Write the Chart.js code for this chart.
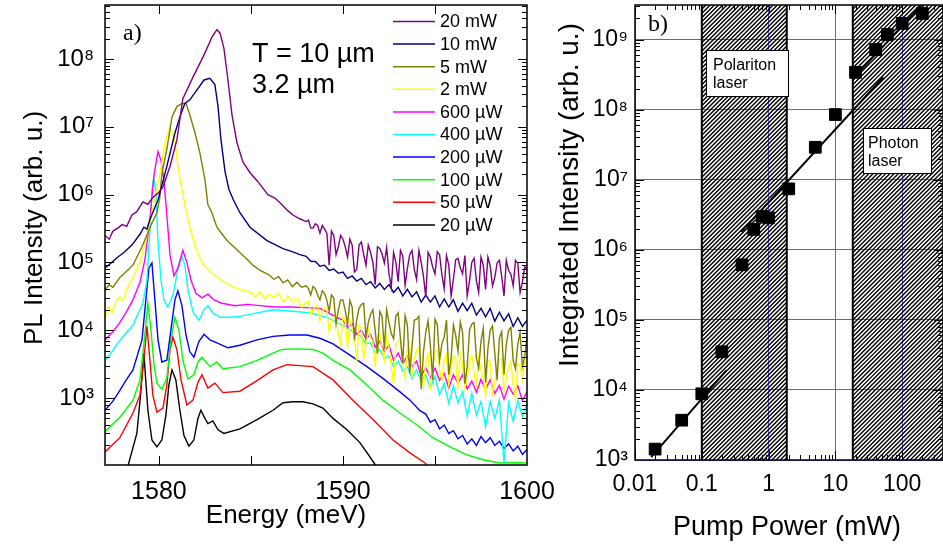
<!DOCTYPE html>
<html>
<head>
<meta charset="utf-8">
<script src="https://cdn.jsdelivr.net/npm/chart.js@4.4.1/dist/chart.umd.min.js"></script>
<style>
  body { margin: 0; background: #fff; }
  #wrap { position: relative; width: 943px; height: 545px; overflow: hidden; background: #fff; }
  #spectra { position: absolute; left: 0; top: 0; width: 560px; height: 545px; }
  #power { position: absolute; left: 540px; top: 0; width: 403px; height: 545px; }
</style>
</head>
<body>
<div id="wrap">
  <canvas id="spectra" width="560" height="545"></canvas>
  <canvas id="power" width="403" height="545"></canvas>
</div>
<script>
// ---- a) PL spectra, one curve per pump power ----
// peak region of each spectrum (energy in meV, intensity in arb. u.)
const e20mW = [1577.07, 1577.3, 1577.5, 1577.77, 1578.0, 1578.25, 1578.53, 1578.8, 1579.13, 1579.4, 1579.67, 1579.95, 1580.22, 1580.6, 1580.98, 1581.3, 1581.85, 1582.23, 1582.5, 1582.88, 1583.15, 1583.32, 1583.53, 1583.75, 1583.97, 1584.24, 1584.57, 1584.95, 1585.38, 1585.92, 1586.3, 1586.58, 1587.0, 1587.28, 1587.65];
const i20mW = [2.5e5, 2.2e5, 2.9e5, 3.2e5, 3.6e5, 3.4e5, 5.0e5, 5.6e5, 7.8e5, 7.2e5, 9.1e5, 1.05e6, 1.3e6, 2.6e6, 6.5e6, 2.6e7, 5.4e7, 8.7e7, 1.23e8, 2.1e8, 2.7e8, 2.4e8, 1.45e8, 4.9e7, 1.5e7, 5.8e6, 3.0e6, 2.1e6, 1.55e6, 1.0e6, 8.9e5, 7.6e5, 5.8e5, 5.0e5, 4.4e5];
const e10mW = [1577.07, 1577.4, 1577.77, 1578.1, 1578.53, 1578.97, 1579.18, 1579.35, 1579.51, 1579.95, 1580.43, 1580.87, 1581.14, 1581.41, 1581.68, 1582.07, 1582.45, 1582.77, 1583.04, 1583.21, 1583.37, 1583.59, 1583.8, 1584.05, 1584.4, 1584.95, 1585.87, 1586.74, 1587.2, 1587.66];
const i10mW = [8.3e4, 9.8e4, 1.2e5, 1.4e5, 1.8e5, 2.6e5, 3.3e5, 3.1e5, 4.3e5, 8.3e5, 2.6e6, 8.1e6, 1.4e7, 2.2e7, 2.5e7, 3.5e7, 4.9e7, 5.2e7, 4.2e7, 2.0e7, 6.5e6, 2.2e6, 1.2e6, 8.3e5, 5.4e5, 3.3e5, 2.1e5, 1.6e5, 1.45e5, 1.3e5];
const e5mW = [1577.07, 1577.3, 1577.5, 1577.88, 1578.2, 1578.59, 1579.08, 1579.62, 1579.89, 1580.05, 1580.16, 1580.43, 1580.71, 1580.98, 1581.25, 1581.47, 1581.68, 1581.96, 1582.23, 1582.5, 1582.66, 1582.88, 1583.15, 1583.7, 1584.4, 1584.8, 1585.11, 1585.5, 1586, 1586.25, 1586.5, 1586.75, 1587, 1587.25, 1587.5, 1587.75];
const i5mW = [3.9e4, 4.7e4, 4.3e4, 6.0e4, 7.2e4, 9.1e4, 1.7e5, 3.8e5, 5.4e5, 9.1e5, 2.0e6, 4.7e6, 1.4e7, 2.0e7, 2.2e7, 2.2e7, 1.5e7, 8.1e6, 4.1e6, 1.66e6, 7.1e5, 5.4e5, 3.3e5, 2.1e5, 1.4e5, 1.1e5, 9.1e4, 7.6e4, 6.5e4, 5.6e4, 6.2e4, 5.0e4, 5.5e4, 4.4e4, 5.1e4, 4.3e4];
const e2mW = [1577.07, 1577.25, 1577.45, 1577.65, 1577.88, 1578.05, 1578.25, 1578.59, 1578.97, 1579.4, 1579.78, 1580.05, 1580.33, 1580.6, 1580.87, 1581.03, 1581.25, 1581.47, 1581.68, 1582.01, 1582.39, 1582.88, 1583.59, 1584.29, 1584.7, 1585, 1585.25, 1585.5, 1585.75, 1586, 1586.25, 1586.5, 1586.75, 1587, 1587.25, 1587.5, 1587.75];
const i2mW = [1.5e4, 2.2e4, 1.8e4, 2.6e4, 3.1e4, 2.7e4, 4.0e4, 6.0e4, 1.0e5, 2.8e5, 8.9e5, 1.95e6, 5.8e6, 1.0e7, 6.1e6, 2.6e6, 1.2e6, 6.0e5, 3.3e5, 1.6e5, 9.5e4, 6.9e4, 5.0e4, 4.1e4, 3.8e4, 3.6e4, 3.1e4, 3.7e4, 2.9e4, 3.4e4, 3.0e4, 3.5e4, 2.6e4, 3.2e4, 2.6e4, 3.0e4, 2.2e4];
const e600uW = [1577.07, 1577.5, 1577.88, 1578.2, 1578.59, 1578.97, 1579.24, 1579.51, 1579.73, 1579.95, 1580.11, 1580.27, 1580.43, 1580.6, 1580.82, 1581.03, 1581.3, 1581.52, 1581.74, 1582.01, 1582.34, 1582.66, 1582.99, 1583.42, 1584.13, 1584.8, 1585.49, 1586.3, 1587.12, 1588.0, 1588.75, 1589.46];
const i600uW = [7.2e3, 9.5e3, 1.3e4, 1.8e4, 2.8e4, 5.1e4, 1.1e5, 4.3e5, 1.95e6, 4.3e6, 3.2e6, 1.66e6, 5.0e5, 1.3e5, 6.3e4, 8.3e4, 1.5e5, 1.0e5, 5.5e4, 3.5e4, 3.0e4, 3.4e4, 2.8e4, 2.5e4, 2.3e4, 2.4e4, 2.3e4, 2.2e4, 2.2e4, 2.15e4, 2.1e4, 1.66e4];
const e400uW = [1577.07, 1577.4, 1577.77, 1578.2, 1578.59, 1579.13, 1579.35, 1579.51, 1579.62, 1579.73, 1579.84, 1579.95, 1580.11, 1580.27, 1580.49, 1580.76, 1581.03, 1581.25, 1581.41, 1581.58, 1581.85, 1582.17, 1582.45, 1582.66, 1582.93, 1583.32, 1583.86, 1584.4, 1585.33, 1586.2, 1587.28, 1588.21, 1589.13, 1590.22, 1590.7];
const i400uW = [3.6e3, 4.6e3, 6.5e3, 9.0e3, 1.2e4, 2.5e4, 5.5e4, 3.0e5, 1.17e6, 1.74e6, 9.8e5, 2.1e5, 5.5e4, 2.8e4, 2.2e4, 3.3e4, 7.8e4, 1.23e5, 9.1e4, 3.9e4, 1.86e4, 1.4e4, 2.0e4, 2.3e4, 1.8e4, 1.55e4, 1.55e4, 1.6e4, 1.8e4, 2.0e4, 1.9e4, 1.8e4, 1.55e4, 1.1e4, 9.0e3];
const e200uW = [1577.07, 1577.5, 1577.88, 1578.2, 1578.59, 1579.08, 1579.29, 1579.46, 1579.62, 1579.78, 1579.95, 1580.16, 1580.43, 1580.65, 1580.87, 1581.03, 1581.25, 1581.47, 1581.68, 1581.9, 1582.17, 1582.45, 1582.77, 1583.15, 1583.75, 1584.4, 1585.33, 1586.2, 1587.12, 1588.04, 1588.75, 1589.46, 1590.38, 1591.3, 1592.17, 1593.1, 1593.64, 1594.18];
const i200uW = [6.6e2, 9.0e2, 1.3e3, 1.8e3, 2.6e3, 7.2e3, 2.8e4, 8.3e4, 9.8e4, 2.8e4, 7.2e3, 3.4e3, 3.6e3, 1.0e4, 2.8e4, 3.8e4, 2.3e4, 8.5e3, 4.8e3, 4.0e3, 6.8e3, 8.7e3, 7.2e3, 6.5e3, 5.5e3, 6.0e3, 7.2e3, 8.1e3, 8.5e3, 8.5e3, 7.6e3, 6.3e3, 4.3e3, 2.9e3, 1.95e3, 1.23e3, 9.3e2, 6.5e2];
const e100uW = [1577.07, 1577.88, 1578.59, 1578.97, 1579.18, 1579.4, 1579.57, 1579.73, 1579.89, 1580.16, 1580.43, 1580.65, 1580.87, 1581.09, 1581.3, 1581.58, 1581.9, 1582.12, 1582.34, 1582.77, 1583.15, 1583.48, 1584.4, 1585.33, 1586.2, 1586.68, 1587.5, 1588.37, 1588.91, 1589.46, 1590.38, 1591.3, 1592.17, 1593.1, 1594.02, 1594.89, 1595.82, 1596.74, 1597.61, 1598.53, 1599.3, 1600];
const i100uW = [3.2e2, 5.2e2, 9.3e2, 1.85e3, 6.0e3, 2.5e4, 1.0e4, 3.1e3, 1.66e3, 1.35e3, 1.95e3, 7.2e3, 1.55e4, 1.0e4, 3.6e3, 1.9e3, 2.2e3, 3.4e3, 4.0e3, 2.9e3, 3.4e3, 2.7e3, 2.9e3, 3.6e3, 4.6e3, 5.2e3, 5.3e3, 5.2e3, 4.6e3, 3.6e3, 2.6e3, 1.55e3, 9.3e2, 6.0e2, 4.0e2, 2.6e2, 1.9e2, 1.45e2, 1.23e2, 1.1e2, 1.12e2, 1.1e2];
const e50uW = [1577.07, 1577.88, 1578.59, 1578.97, 1579.18, 1579.35, 1579.51, 1579.67, 1579.89, 1580.22, 1580.43, 1580.6, 1580.76, 1580.98, 1581.2, 1581.52, 1581.85, 1582.12, 1582.34, 1582.66, 1583.04, 1583.48, 1584.4, 1585.33, 1586.2, 1586.96, 1587.66, 1588.37, 1589.46, 1590.54, 1591.63, 1592.72, 1593.64, 1594.46, 1594.84];
const i50uW = [1.6e2, 2.6e2, 6.0e2, 1.1e3, 3.6e3, 1.15e4, 3.6e3, 1.1e3, 6.2e2, 7.1e2, 1.55e3, 5.1e3, 7.9e3, 5.1e3, 1.85e3, 7.9e2, 9.3e2, 1.7e3, 2.2e3, 1.4e3, 1.66e3, 1.2e3, 1.26e3, 1.8e3, 2.6e3, 3.1e3, 3.0e3, 2.9e3, 1.85e3, 9.3e2, 4.8e2, 2.4e2, 1.55e2, 1.1e2, 87];
const e20uW = [1577.9, 1578.32, 1578.8, 1579.0, 1579.18, 1579.4, 1579.62, 1579.89, 1580.16, 1580.38, 1580.54, 1580.71, 1580.92, 1581.14, 1581.36, 1581.63, 1581.9, 1582.12, 1582.28, 1582.5, 1582.66, 1582.93, 1583.21, 1583.53, 1584.4, 1585.33, 1586.2, 1586.74, 1587.28, 1587.83, 1588.37, 1588.91, 1589.46, 1590.22, 1590.92, 1591.47, 1591.85];
const i20uW = [60, 100, 300, 1100, 4600, 660, 240, 190, 240, 560, 1550, 2600, 1850, 660, 280, 195, 240, 500, 660, 500, 420, 460, 340, 300, 350, 480, 660, 850, 880, 880, 820, 710, 500, 340, 220, 135, 95];

// noisy high-energy tails; each tail ends at 1600 meV on one of these grids
const tailEnergy = [1588, 1588.25, 1588.5, 1588.75, 1589, 1589.25, 1589.5, 1589.75, 1590, 1590.25, 1590.5, 1590.75, 1591, 1591.25, 1591.5, 1591.75, 1592, 1592.25, 1592.5, 1592.75, 1593, 1593.25, 1593.5, 1593.75, 1594, 1594.25, 1594.5, 1594.75, 1595, 1595.25, 1595.5, 1595.75, 1596, 1596.25, 1596.5, 1596.75, 1597, 1597.25, 1597.5, 1597.75, 1598, 1598.25, 1598.5, 1598.75, 1599, 1599.25, 1599.5, 1599.75, 1600];
const fineEnergy = [1588, 1588.125, 1588.25, 1588.375, 1588.5, 1588.625, 1588.75, 1588.875, 1589, 1589.125, 1589.25, 1589.375, 1589.5, 1589.625, 1589.75, 1589.875, 1590, 1590.125, 1590.25, 1590.375, 1590.5, 1590.625, 1590.75, 1590.875, 1591, 1591.125, 1591.25, 1591.375, 1591.5, 1591.625, 1591.75, 1591.875, 1592, 1592.125, 1592.25, 1592.375, 1592.5, 1592.625, 1592.75, 1592.875, 1593, 1593.125, 1593.25, 1593.375, 1593.5, 1593.625, 1593.75, 1593.875, 1594, 1594.125, 1594.25, 1594.375, 1594.5, 1594.625, 1594.75, 1594.875, 1595, 1595.125, 1595.25, 1595.375, 1595.5, 1595.625, 1595.75, 1595.875, 1596, 1596.125, 1596.25, 1596.375, 1596.5, 1596.625, 1596.75, 1596.875, 1597, 1597.125, 1597.25, 1597.375, 1597.5, 1597.625, 1597.75, 1597.875, 1598, 1598.125, 1598.25, 1598.375, 1598.5, 1598.625, 1598.75, 1598.875, 1599, 1599.125, 1599.25, 1599.375, 1599.5, 1599.625, 1599.75, 1599.875, 1600];
const t20mW = [4.0e5, 4.2e5, 3.2e5, 3.2e5, 3.7e5, 3.5e5, 2.7e5, 3.5e5, 3.1e5, 2.7e5, 9.1e4, 2.9e5, 2.5e5, 1.3e5, 1.7e5, 2.5e5, 2.2e5, 1.7e5, 1.2e5, 2.2e5, 1.8e5, 7.2e4, 7.9e4, 1.8e5, 2.0e5, 1.3e5, 9.1e4, 1.8e5, 1.4e5, 1.0e5, 4.7e4, 1.7e5, 1.6e5, 1.33e5, 9.8e4, 1.66e5, 6.8e4, 4.3e4, 1.4e5, 1.0e5, 5.2e4, 1.5e5, 1.25e5, 4.6e4, 8.1e4, 1.3e5, 1.5e5, 7.9e4, 5.6e4, 1.5e5, 1.0e5, 6.2e4, 3.1e4, 1.4e5, 1.2e5, 8.5e4, 6.8e4, 1.43e5, 1.3e5, 6.6e4, 4.1e4, 1.26e5, 9.1e4, 3.2e4, 5.6e4, 1.1e5, 1.15e5, 8.3e4, 6.8e4, 1.26e5, 3.2e4, 5.3e4, 1.0e5, 1.15e5, 5.4e4, 3.6e4, 1.2e5, 9.1e4, 4.0e4, 1.2e5, 8.9e4, 4.5e4, 6.0e4, 9.8e4, 1.07e5, 6.2e4, 3.2e4, 1.07e5, 7.6e4, 6.7e4, 4.5e4, 1.07e5, 9.7e4, 3.6e4, 5.1e4, 8.6e4, 7.9e4];
const t10mW = [1.23e5, 1.04e5, 1.03e5, 8.8e4, 9.1e4, 7.6e4, 8.0e4, 6.9e4, 7.2e4, 5.8e4, 6.3e4, 5.3e4, 5.8e4, 4.7e4, 5.2e4, 4.2e4, 4.9e4, 4.0e4, 4.7e4, 3.6e4, 4.3e4, 3.2e4, 4.0e4, 3.1e4, 3.7e4, 2.6e4, 3.3e4, 2.6e4, 3.2e4, 2.2e4, 2.9e4, 2.2e4, 2.8e4, 1.9e4, 2.5e4, 1.94e4, 2.5e4, 1.67e4, 2.1e4, 1.58e4, 2.1e4, 1.36e4, 1.84e4, 1.37e4, 1.74e4, 1.13e4, 1.53e4, 1.14e4, 1.41e4];
const t5mW = [4.5e4, 4.1e4, 3.3e4, 4.4e4, 4.1e4, 3.3e4, 2.8e4, 3.8e4, 3.5e4, 2.75e4, 1.9e4, 3.3e4, 3.0e4, 1.23e4, 2.0e4, 2.8e4, 2.8e4, 1.95e4, 1.2e4, 2.75e4, 2.2e4, 7.1e3, 1.45e4, 2.1e4, 2.4e4, 2.5e4, 7.9e3, 1.3e4, 1.7e4, 2.0e4, 1.0e4, 4.5e3, 1.9e4, 1.6e4, 5.3e3, 2.0e4, 1.3e4, 8.9e3, 7.5e3, 1.6e4, 1.8e4, 7.5e3, 3.3e3, 1.64e4, 1.2e4, 2.3e3, 5.6e3, 1.4e4, 1.45e4, 1.6e4, 1.35e3, 4.8e3, 9.4e3, 1.38e4, 5.9e3, 1.84e3, 1.45e4, 1.22e4, 3.6e3, 6.3e3, 7.9e3, 1.41e4, 2.2e3, 3.8e3, 1.2e4, 8.4e3, 4.9e3, 1.32e4, 9.2e3, 1.62e3, 2.9e3, 1.0e4, 1.23e4, 1.3e4, 3.9e3, 2.75e3, 6.8e3, 1.07e4, 1.7e3, 5.3e3, 1.0e4, 1.16e4, 4.6e3, 1.82e3, 7.7e3, 9.5e3, 2.2e3, 6.2e3, 1.0e4, 1.1e4, 3.6e3, 2.7e3, 6.2e3, 9.3e3, 2.9e3, 4.1e3, 8.1e3];
const t2mW = [2.6e4, 2.7e4, 1.75e4, 2.0e4, 2.2e4, 2.3e4, 1.37e4, 1.9e4, 2.1e4, 2.1e4, 9.4e3, 1.3e4, 1.55e4, 1.66e4, 9.4e3, 6.2e3, 1.6e4, 1.33e4, 5.5e3, 1.43e4, 1.1e4, 7.9e3, 3.4e3, 1.19e4, 1.1e4, 3.8e3, 5.9e3, 1.06e4, 7.8e3, 6.7e3, 2.9e3, 8.2e3, 8.9e3, 5.2e3, 3.6e3, 8.3e3, 5.6e3, 3.0e3, 1.6e3, 6.2e3, 6.8e3, 7.1e3, 3.2e3, 1.95e3, 5.1e3, 5.8e3, 2.0e3, 3.7e3, 5.0e3, 5.5e3, 2.3e3, 1.45e3, 3.5e3, 4.4e3, 1.3e3, 2.7e3, 4.8e3, 5.0e3, 2.6e3, 1.8e3, 3.6e3, 4.4e3, 1.6e3, 2.7e3, 4.2e3, 3.9e3, 1.33e3, 4.5e3, 3.1e3, 1.38e3, 2.0e3, 3.4e3, 4.2e3, 2.3e3, 1.56e3, 4.0e3, 2.6e3, 1.9e3, 1.1e3, 3.7e3, 3.3e3, 1.17e3, 1.7e3, 2.9e3, 3.6e3, 3.8e3, 1.27e3, 2.0e3, 2.8e3, 3.5e3, 1.5e3, 9.8e2, 3.2e3, 3.0e3, 1.84e3, 3.5e3, 2.9e3];
const t600uW = [1.4e4, 1.1e4, 1.24e4, 8.7e3, 1.0e4, 7.5e3, 8.7e3, 5.6e3, 6.9e3, 4.9e3, 6.0e3, 3.6e3, 4.6e3, 3.2e3, 4.2e3, 2.9e3, 3.5e3, 2.1e3, 2.8e3, 2.0e3, 2.75e3, 1.83e3, 2.3e3, 1.4e3, 2.2e3, 1.65e3, 2.2e3, 1.36e3, 1.78e3, 1.22e3, 1.88e3, 1.33e3, 1.86e3, 1.17e3, 1.53e3, 9.6e2, 1.5e3, 1.14e3, 1.5e3, 9.2e2, 1.23e3];
const t400uW = [8.1e3, 6.3e3, 6.5e3, 4.7e3, 5.2e3, 3.8e3, 4.2e3, 2.9e3, 3.5e3, 2.5e3, 2.9e3, 1.94e3, 2.6e3, 1.75e3, 2.2e3, 1.4e3, 2.1e3, 1.12e3, 1.66e3, 8.3e2, 1.5e3, 8.5e2, 1.24e3, 5.4e2, 1.17e3, 5.6e2, 8.9e2, 3.8e2, 8.9e2, 5.0e2, 9.3e2, 1.1e2, 8.5e2, 4.5e2, 9.2e2, 5.3e2, 8.5e2];
const t200uW = [5.8e2, 4.4e2, 4.8e2, 3.5e2, 4.0e2, 3.0e2, 3.3e2, 2.5e2, 2.8e2, 2.1e2, 2.5e2, 2.0e2, 2.7e2, 2.2e2, 2.6e2, 2.0e2, 2.3e2, 1.8e2, 2.1e2, 1.66e2, 1.95e2, 1.48e2, 1.74e2];

const energyTicks = [1580, 1585, 1590, 1595, 1600];
const plDecades = [1e3, 1e4, 1e5, 1e6, 1e7, 1e8];

// ---- b) integrated intensity vs pump power ----
const pumpPower = [0.02, 0.05, 0.1, 0.2, 0.4, 0.6, 0.8, 1, 2, 5, 10, 20, 40, 60, 100, 200];
const integratedIntensity = [1.43e3, 3.7e3, 8.8e3, 3.5e4, 6.1e5, 1.95e6, 3.0e6, 2.85e6, 7.4e6, 2.9e7, 8.5e7, 3.4e8, 7.2e8, 1.18e9, 1.7e9, 2.35e9];
const fitLowPower = [0.0175, 0.233];
const fitLowIntensity = [1.1e3, 1.9e4];
const fitMidPower = [0.39, 52];
const fitMidIntensity = [1.8e6, 2.9e8];
const fitHighPower = [20.7, 206];
const fitHighIntensity = [3.1e8, 3.3e9];
const laserRegions = [[0.1, 1.87], [18.2, 1000]];
const powerTicks = [0.01, 0.1, 1, 10, 100];
const intensityDecades = [1e3, 1e4, 1e5, 1e6, 1e7, 1e8, 1e9];

const SANS = "'Liberation Sans', Arial, sans-serif";
const SERIF = "'Liberation Serif', 'Times New Roman', serif";
Chart.defaults.font.family = SANS;
Chart.defaults.color = '#000';

function spectrum(headE, headI, grid, tail) {
  const pts = headE.map((e, k) => ({ x: e, y: headI[k] }));
  const g = grid.slice(grid.length - tail.length);
  return pts.concat(g.map((e, k) => ({ x: e, y: tail[k] })));
}

function pairs(xs, ys) {
  return xs.map((v, k) => ({ x: v, y: ys[k] }));
}

function powerLabel(v) {
  const sup = ['\u2070', '\u00b9', '\u00b2', '\u00b3', '\u2074', '\u2075', '\u2076', '\u2077', '\u2078', '\u2079'];
  const p = Math.round(Math.log10(v));
  return '10' + String(p).split('').map(d => sup[+d]).join('');
}

function logMinors(lo, hi) {
  const out = [];
  for (let p = lo; p <= hi; p++) for (let m = 2; m <= 9; m++) out.push(m * Math.pow(10, p));
  return out;
}

// inward tick marks on all four sides plus the plot frame
const frameTicks = {
  id: 'frameTicks',
  afterDraw(chart, args, o) {
    const { ctx, chartArea: a } = chart;
    const x = chart.scales.x, y = chart.scales.y;
    ctx.save();
    ctx.beginPath();
    ctx.rect(a.left, a.top, a.right - a.left, a.bottom - a.top);
    ctx.clip();
    ctx.strokeStyle = '#000';
    ctx.lineWidth = 1;
    ctx.beginPath();
    const vt = (v, len) => {
      const p = Math.round(x.getPixelForValue(v)) + 0.5;
      ctx.moveTo(p, a.bottom); ctx.lineTo(p, a.bottom - len);
      ctx.moveTo(p, a.top); ctx.lineTo(p, a.top + len);
    };
    const ht = (v, len) => {
      const p = Math.round(y.getPixelForValue(v)) + 0.5;
      ctx.moveTo(a.left, p); ctx.lineTo(a.left + len, p);
      ctx.moveTo(a.right, p); ctx.lineTo(a.right - len, p);
    };
    o.xMajor.forEach(v => vt(v, 9));
    (o.xMinor || []).forEach(v => vt(v, 5));
    o.yMajor.forEach(v => ht(v, 9));
    (o.yMinor || []).forEach(v => ht(v, 5));
    ctx.stroke();
    ctx.restore();
    ctx.save();
    ctx.strokeStyle = '#000';
    ctx.lineWidth = 1.5;
    ctx.strokeRect(a.left, a.top, a.right - a.left, a.bottom - a.top);
    ctx.restore();
  }
};

// legend, annotations and axis titles of panel a)
const spectraDecor = {
  id: 'spectraDecor',
  afterDraw(chart) {
    const ctx = chart.ctx;
    ctx.save();
    ctx.fillStyle = '#000';
    ctx.font = '18px ' + SANS;
    ctx.textBaseline = 'middle';
    chart.data.datasets.forEach((ds, i) => {
      const y = 21.5 + i * 22.6;
      ctx.strokeStyle = ds.borderColor;
      ctx.lineWidth = 1.5;
      ctx.beginPath();
      ctx.moveTo(393, y);
      ctx.lineTo(435, y);
      ctx.stroke();
      ctx.fillText(ds.label, 440, y + 1);
    });
    ctx.textBaseline = 'alphabetic';
    ctx.font = '27px ' + SANS;
    ctx.fillText('T = 10 \u00b5m', 252, 62);
    ctx.fillText('3.2 \u00b5m', 252, 93);
    ctx.font = '24px ' + SERIF;
    ctx.fillText('a)', 123, 40);
    ctx.font = '26px ' + SANS;
    ctx.textAlign = 'center';
    ctx.fillText('Energy (meV)', 286, 523);
    ctx.translate(35, 228);
    ctx.rotate(-Math.PI / 2);
    ctx.textBaseline = 'middle';
    ctx.fillText('PL Intensity (arb. u.)', 0, 0);
    ctx.restore();
  }
};

// hatched laser regions with their labels, titles of panel b)
const powerDecor = {
  id: 'powerDecor',
  beforeDatasetsDraw(chart) {
    const { ctx, chartArea: a, scales: { x } } = chart;
    const h = a.bottom - a.top;
    laserRegions.forEach(([lo, hi]) => {
      const x0 = x.getPixelForValue(lo);
      const x1 = Math.min(x.getPixelForValue(hi), a.right + 2);
      ctx.save();
      ctx.beginPath();
      ctx.rect(x0, a.top, x1 - x0, h);
      ctx.clip();
      ctx.strokeStyle = '#000';
      ctx.lineWidth = 1.4;
      ctx.beginPath();
      for (let k = x0 - h; k < x1; k += 4.2) {
        ctx.moveTo(k, a.bottom);
        ctx.lineTo(k + h, a.top);
      }
      ctx.stroke();
      ctx.restore();
      ctx.save();
      ctx.strokeStyle = '#000';
      ctx.lineWidth = 2;
      ctx.beginPath();
      ctx.moveTo(x0, a.top); ctx.lineTo(x0, a.bottom);
      ctx.moveTo(x1, a.top); ctx.lineTo(x1, a.bottom);
      ctx.stroke();
      ctx.restore();
    });
    const box = (bx, by, bw, bh, lines, tx) => {
      ctx.save();
      ctx.fillStyle = '#fff';
      ctx.fillRect(bx, by, bw, bh);
      ctx.strokeStyle = '#000';
      ctx.lineWidth = 1;
      ctx.strokeRect(bx + 0.5, by + 0.5, bw, bh);
      ctx.fillStyle = '#000';
      ctx.font = '16px ' + SANS;
      lines.forEach((t, i) => ctx.fillText(t, bx + tx, by + 20 + i * 18));
      ctx.restore();
    };
    box(166, 50, 82, 46, ['Polariton', 'laser'], 7);
    box(323, 128, 68, 45, ['Photon', 'laser'], 5);
  },
  afterDraw(chart) {
    const ctx = chart.ctx;
    ctx.save();
    ctx.fillStyle = '#000';
    ctx.font = '24px ' + SERIF;
    ctx.fillText('b)', 108, 31);
    ctx.font = '27px ' + SANS;
    ctx.textAlign = 'center';
    ctx.fillText('Pump Power (mW)', 247, 535);
    ctx.translate(30, 195);
    ctx.rotate(-Math.PI / 2);
    ctx.textBaseline = 'middle';
    ctx.font = '28px ' + SANS;
    ctx.fillText('Integrated Intensity (arb. u.)', 0, 0);
    ctx.restore();
  }
};

const spectraSeries = [
  ['20 mW', '#800080', e20mW, i20mW, fineEnergy, t20mW],
  ['10 mW', '#000080', e10mW, i10mW, tailEnergy, t10mW],
  ['5 mW', '#808000', e5mW, i5mW, fineEnergy, t5mW],
  ['2 mW', '#ffff00', e2mW, i2mW, fineEnergy, t2mW],
  ['600 \u00b5W', '#ff00ff', e600uW, i600uW, tailEnergy, t600uW],
  ['400 \u00b5W', '#00ffff', e400uW, i400uW, tailEnergy, t400uW],
  ['200 \u00b5W', '#0000ff', e200uW, i200uW, tailEnergy, t200uW],
  ['100 \u00b5W', '#00ff00', e100uW, i100uW, tailEnergy, []],
  ['50 \u00b5W', '#ff0000', e50uW, i50uW, tailEnergy, []],
  ['20 \u00b5W', '#000000', e20uW, i20uW, tailEnergy, []]
];

new Chart(document.getElementById('spectra'), {
  type: 'scatter',
  data: {
    datasets: spectraSeries.map(([label, color, e, i, grid, t]) => ({
      label,
      data: spectrum(e, i, grid, t),
      showLine: true,
      borderColor: color,
      backgroundColor: color,
      borderWidth: 1.4,
      pointRadius: 0,
      tension: 0
    }))
  },
  options: {
    responsive: false,
    animation: false,
    devicePixelRatio: 1,
    events: [],
    layout: { autoPadding: false, padding: { top: 5, right: 33, left: 0, bottom: 0 } },
    plugins: {
      legend: { display: false },
      tooltip: { enabled: false },
      frameTicks: { xMajor: energyTicks, yMajor: [1e2].concat(plDecades), yMinor: logMinors(2, 8) }
    },
    scales: {
      x: {
        type: 'linear',
        min: 1577.07,
        max: 1600,
        afterBuildTicks: s => { s.ticks = energyTicks.map(v => ({ value: v })); },
        afterFit: s => { s.height = 80; s.paddingLeft = 0; s.paddingRight = 0; },
        ticks: {
          callback: v => (v % 10 === 0 ? String(v) : ''),
          font: { size: 25 },
          color: '#000',
          padding: 12,
          maxRotation: 0,
          autoSkip: false
        },
        grid: { display: false, drawTicks: false },
        border: { display: false }
      },
      y: {
        type: 'logarithmic',
        min: 102.8,
        max: 6.25e8,
        afterBuildTicks: s => { s.ticks = plDecades.map(v => ({ value: v })); },
        afterFit: s => { s.width = 105; s.paddingTop = 0; s.paddingBottom = 0; },
        ticks: {
          callback: v => powerLabel(v),
          font: { size: 24 },
          color: '#000',
          padding: 11,
          autoSkip: false
        },
        grid: { display: false, drawTicks: false },
        border: { display: false }
      }
    }
  },
  plugins: [frameTicks, spectraDecor]
});

new Chart(document.getElementById('power'), {
  type: 'scatter',
  data: {
    datasets: [
      {
        label: 'Integrated intensity',
        data: pairs(pumpPower, integratedIntensity),
        pointStyle: 'rect',
        pointRadius: 8.3,
        backgroundColor: '#000',
        borderColor: '#000',
        borderWidth: 1
      },
      {
        label: 'fit low',
        data: pairs(fitLowPower, fitLowIntensity),
        showLine: true, pointRadius: 0, borderColor: '#000', borderWidth: 2
      },
      {
        label: 'fit mid',
        data: pairs(fitMidPower, fitMidIntensity),
        showLine: true, pointRadius: 0, borderColor: '#000', borderWidth: 2
      },
      {
        label: 'fit high',
        data: pairs(fitHighPower, fitHighIntensity),
        showLine: true, pointRadius: 0, borderColor: '#000', borderWidth: 2
      }
    ]
  },
  options: {
    responsive: false,
    animation: false,
    devicePixelRatio: 1,
    events: [],
    layout: { autoPadding: false, padding: { top: 5, right: 0, left: 0, bottom: 0 } },
    plugins: {
      legend: { display: false },
      tooltip: { enabled: false },
      frameTicks: {
        xMajor: powerTicks, xMinor: logMinors(-2, 2),
        yMajor: intensityDecades, yMinor: logMinors(3, 9)
      }
    },
    scales: {
      x: {
        type: 'logarithmic',
        min: 0.01,
        max: 408,
        afterBuildTicks: s => { s.ticks = powerTicks.map(v => ({ value: v })); },
        afterFit: s => { s.height = 85; s.paddingLeft = 0; s.paddingRight = 0; },
        ticks: {
          callback: v => String(v),
          font: { size: 23 },
          color: '#000',
          padding: 11,
          maxRotation: 0,
          autoSkip: false
        },
        grid: { color: '#5a5aff', lineWidth: 1, drawTicks: false },
        border: { display: false }
      },
      y: {
        type: 'logarithmic',
        min: 1000,
        max: 3.11e9,
        afterBuildTicks: s => { s.ticks = intensityDecades.map(v => ({ value: v })); },
        afterFit: s => { s.width = 95; s.paddingTop = 0; s.paddingBottom = 0; },
        ticks: {
          callback: v => powerLabel(v),
          font: { size: 23 },
          color: '#000',
          padding: 7,
          autoSkip: false
        },
        grid: { color: '#5a5aff', lineWidth: 1, drawTicks: false },
        border: { display: false }
      }
    }
  },
  plugins: [frameTicks, powerDecor]
});
</script>
</body>
</html>
